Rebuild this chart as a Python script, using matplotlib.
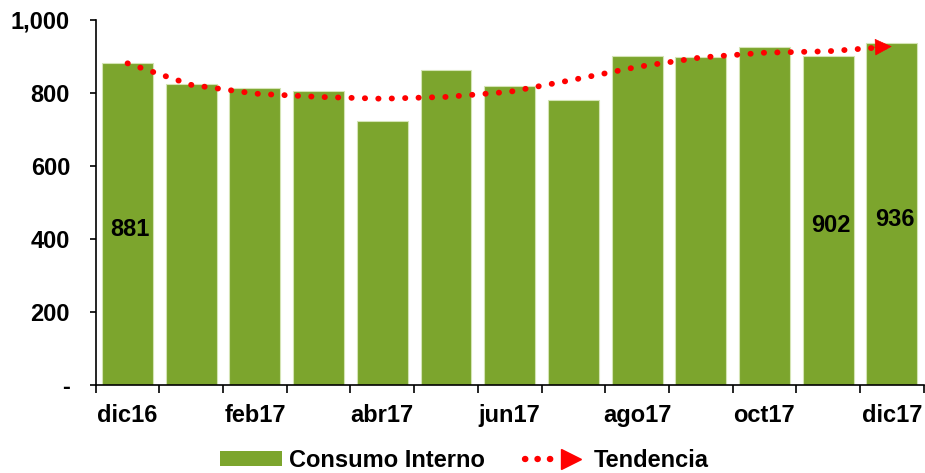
import matplotlib.pyplot as plt
from matplotlib.patches import Patch
from matplotlib.lines import Line2D
from matplotlib.legend_handler import HandlerTuple

plt.rcParams['font.family'] = ['Liberation Sans', 'DejaVu Sans']
plt.rcParams['font.weight'] = 'bold'

months = ['dic16', 'ene17', 'feb17', 'mar17', 'abr17', 'may17', 'jun17',
          'jul17', 'ago17', 'sep17', 'oct17', 'nov17', 'dic17']
consumo = [881, 823, 814, 804, 722, 862, 819, 781, 901, 897, 926, 902, 936]
tendencia = [881, 822, 798, 789, 784, 789, 803, 836, 871, 897, 910, 914, 927]
labelled = {0: '881', 11: '902', 12: '936'}
y_ticks = [0, 200, 400, 600, 800, 1000]
y_labels = ['-', '200', '400', '600', '800', '1,000']

GREEN = '#7ca52d'
RED = '#ff0000'

fig = plt.figure(figsize=(9.25, 4.73), dpi=100)
ax = fig.add_axes([0.1035, 0.186, 0.895, 0.772])

x = list(range(len(months)))
ax.bar(x, consumo, width=0.8, color=GREEN, edgecolor='#d4e4b4', linewidth=0.8, zorder=2)

for i, txt in labelled.items():
    ax.annotate(txt, (i, consumo[i] / 2), xytext=(2, -4), textcoords='offset points',
                ha='center', va='center', fontsize=17, fontweight='bold',
                color='black', zorder=4)

# dotted trend line, round dots
dots = (0, (0.05, 2.25))
ax.plot(x, tendencia, color=RED, linewidth=4.2, linestyle=dots,
        dash_capstyle='round', zorder=3)
ax.annotate('', xy=(x[-1], tendencia[-1]), xytext=(x[-1] - 0.3, tendencia[-1] - 2),
            arrowprops=dict(arrowstyle='-|>', color=RED, lw=0.5, mutation_scale=28,
                            shrinkA=0, shrinkB=0), zorder=3)

ax.set_xlim(-0.5, len(months) - 0.5)
ax.set_ylim(0, 1000)
ax.set_yticks(y_ticks)
ax.set_yticklabels(y_labels)
ax.set_xticks([i - 0.5 for i in range(len(months) + 1)])
ax.set_xticklabels([])
ax.set_xticks(x[::2], minor=True)
ax.set_xticklabels(months[::2], minor=True)
ax.tick_params(axis='x', which='major', length=5.5, width=1.2, direction='out')
ax.tick_params(axis='x', which='minor', length=0, pad=14, labelsize=17)
ax.tick_params(axis='y', length=4.5, width=1.2, direction='out', pad=14, labelsize=17)

for s in ['top', 'right']:
    ax.spines[s].set_visible(False)
for s in ['left', 'bottom']:
    ax.spines[s].set_linewidth(1.2)

h_bar = Patch(facecolor=GREEN, edgecolor='none')
h_dots = Line2D([], [], color=RED, linewidth=4.6, linestyle=(0, (0.05, 1.9)),
                dash_capstyle='round')
h_arrow = Line2D([], [], color=RED, marker='>', markersize=15, linestyle='none')
fig.legend([h_bar, (h_dots, h_arrow)], ['Consumo Interno', 'Tendencia'],
           handler_map={tuple: HandlerTuple(ndivide=None, pad=0)},
           loc='center', bbox_to_anchor=(0.502, 0.026), ncol=2, frameon=False,
           fontsize=17, handlelength=2.6, handleheight=0.6, handletextpad=0.3,
           columnspacing=1.7, borderpad=0.1)

fig.savefig('out.png', dpi=100)
